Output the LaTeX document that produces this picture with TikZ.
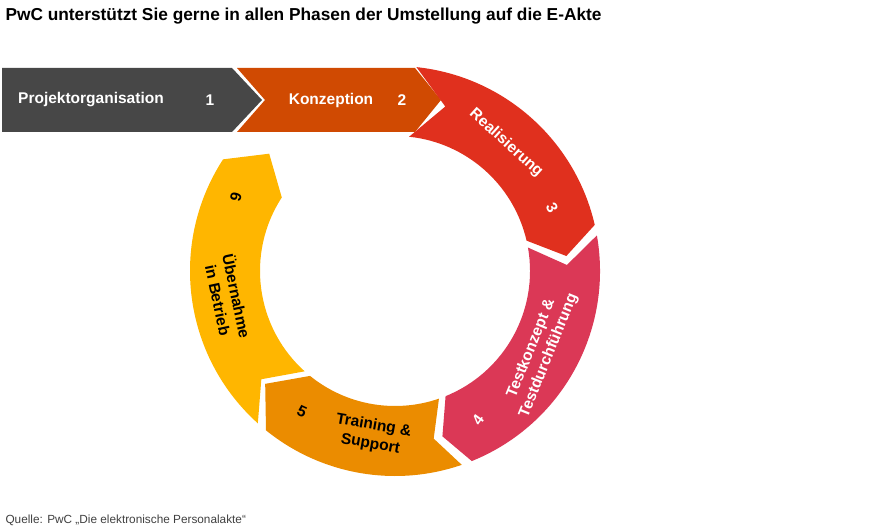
\documentclass[tikz,border=0pt]{standalone}
\usepackage{fontspec}
\setmainfont{Liberation Sans}
\definecolor{cdark}{HTML}{474747}
\definecolor{ctwo}{HTML}{D04A02}
\definecolor{cthree}{HTML}{E0301E}
\definecolor{cfour}{HTML}{DB3856}
\definecolor{cfive}{HTML}{EB8C00}
\definecolor{csix}{HTML}{FFB600}
\newcommand{\ringseg}[5]{%
\fill[#5,shift={(395,259)}] (#1:205) arc[start angle=#1,end angle=#2,radius=205] -- ({#2-#4}:172) -- (#2:135) arc[start angle=#2,end angle=#1,radius=135] -- ({#1-#3}:172) -- cycle;}
\tikzset{lab/.style={font=\bfseries\fontsize{15.5}{19}\selectfont,align=center,inner sep=0pt},
wl/.style={lab,text=white},bl/.style={lab,text=black}}
\begin{document}
\begin{tikzpicture}[x=1pt,y=1pt]
\useasboundingbox (0,0) rectangle (885,530);
\node[anchor=west,font=\bfseries\fontsize{17.3}{20}\selectfont] (title) at (2,514) {PwC unterstützt Sie gerne in allen Phasen der Umstellung auf die E-Akte};
\fill[cdark] (2,462) -- (232,462) -- (262,430) -- (232,398) -- (2,398) -- cycle;
\fill[ctwo] (237,462) -- (415,462) -- (441,430) -- (415,398) -- (237,398) -- (265,430) -- cycle;
\ringseg{84}{13}{11}{8}{cthree}
\ringseg{10}{-68}{8}{6}{cfour}
\ringseg{-71}{-129}{6}{10}{cfive}
\ringseg{-132}{-213}{9}{10}{csix}
\node[wl,anchor=west] (p1) at (18,430) {Projektorganisation};
\node[wl] (n1) at (210,430) {1};
\node[wl] (p2) at (331,430) {Konzeption};
\node[wl] (n2) at (402,430) {2};
\node[wl,rotate=-42] (p3) at (506,387) {Realisierung};
\node[wl,rotate=-62] (n3) at (552,322) {3};
\node[wl,rotate=68] (p4) at (540,178) {Testkonzept \&\\Testdurchführung};
\node[wl,rotate=55] (n4) at (478,110) {4};
\node[bl,rotate=-10] (p5) at (372,95) {Training \&\\Support};
\node[bl,rotate=-25] (n5) at (302,118) {5};
\node[bl,rotate=-78] (p6) at (228,232) {Übernahme\\in Betrieb};
\node[bl,rotate=-105] (n6) at (236,333) {6};
\node[anchor=west,font=\fontsize{11.8}{13}\selectfont,text=black!75] (src) at (2,10) {Quelle: PwC „Die elektronische Personalakte“};
\end{tikzpicture}
\end{document}
